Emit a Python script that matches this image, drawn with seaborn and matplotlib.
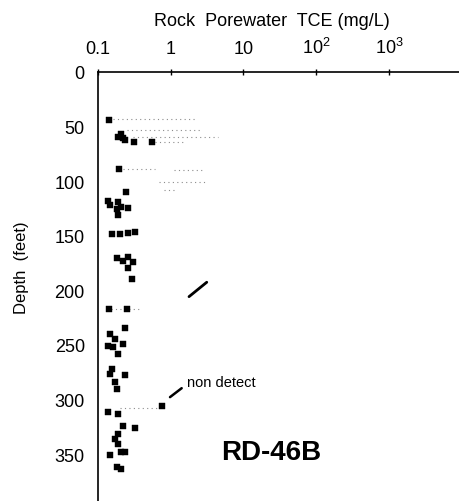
import numpy as np
import pandas as pd
import seaborn as sns
import matplotlib.pyplot as plt

# 岩石間隙水 TCE 濃度 (mg/L) と深度 (feet)
depth = [43.9, 57, 60, 62.5, 61, 64, 64.6, 89, 110, 118, 119, 122, 125.6, 124, 125,
         131, 148.5, 148.5, 147.6, 147, 170.7, 169.5, 174, 180, 173, 190, 217, 217,
         235, 240, 249, 250.7, 252, 258, 245, 272, 278, 276.6, 284, 290, 305.6,
         311.6, 313, 324, 326, 331.5, 336, 340.6, 347.7, 351, 348, 362, 363.5]
tce = [0.142, 0.207, 0.188, 0.235, 0.22, 0.31, 0.55, 0.195, 0.24, 0.137, 0.188, 0.146,
       0.18, 0.21, 0.26, 0.19, 0.154, 0.2, 0.26, 0.32, 0.18, 0.26, 0.30, 0.26, 0.22,
       0.29, 0.142, 0.25, 0.235, 0.146, 0.22, 0.139, 0.16, 0.19, 0.17, 0.154, 0.235,
       0.146, 0.17, 0.18, 0.75, 0.139, 0.19, 0.22, 0.32, 0.19, 0.17, 0.19, 0.21,
       0.146, 0.235, 0.18, 0.21]

# 薄い点線 (範囲)
trail_depth = [43, 53, 60, 64, 89, 90, 101, 108, 217, 308]
trail_lo = [0.16, 0.25, 0.3, 0.6, 0.22, 1.1, 0.7, 0.8, 0.15, 0.2]
trail_hi = [2.2, 2.5, 4.5, 1.5, 0.6, 3.0, 3.0, 1.1, 0.38, 0.7]

xticks = [0.1, 1, 10, 100, 1000]
xticklabels = ["0.1", "1", "10", "$10^2$", "$10^3$"]
yticks = [0, 50, 100, 150, 200, 250, 300, 350]

df = pd.DataFrame({"tce": tce, "depth": depth})

sns.set_style("white")
plt.rcParams["font.family"] = ["Liberation Sans", "DejaVu Sans"]
plt.rcParams["mathtext.default"] = "regular"
plt.rcParams["text.color"] = "black"
plt.rcParams["xtick.color"] = "black"
plt.rcParams["ytick.color"] = "black"

fig = plt.figure(figsize=(4.6, 5.02), dpi=100)
ax = fig.add_axes([0.213, 0.0, 0.787, 0.855])

ax.hlines(trail_depth, trail_lo, trail_hi, colors="0.55", linestyles=(0, (1, 3)), lw=0.8)
sns.scatterplot(data=df, x="tce", y="depth", marker="s", color="black",
                s=22, edgecolor="black", linewidth=0.3, ax=ax, zorder=3)

ax.set_xscale("log")
ax.set_xlim(0.1, 9500)
ax.set_ylim(393, 0)

ax.xaxis.set_ticks_position("top")
ax.set_xticks(xticks)
ax.set_xticklabels(xticklabels)
ax.minorticks_off()
ax.set_yticks(yticks)
ax.tick_params(axis="x", direction="inout", length=5, width=1, pad=8, labelsize=13,
               top=True, bottom=False, labeltop=True, labelbottom=False)
ax.tick_params(axis="y", direction="inout", length=11, width=1, pad=4, labelsize=13)

for s in ["right", "bottom"]:
    ax.spines[s].set_visible(False)
for s in ["top", "left"]:
    ax.spines[s].set_color("black")
    ax.spines[s].set_linewidth(1.2)
ax.set_xlabel("")
ax.set_ylabel("")

# 注記
ax.plot([1.785, 3.13], [205.9, 192.7], color="black", lw=2)
ax.plot([0.978, 1.415], [297.9, 289.7], color="black", lw=1.8)
ax.text(1.675, 284, "non detect", fontsize=10.5, va="center", ha="left")
ax.text(5.0, 348, "RD-46B", fontsize=20, fontweight="bold", va="center", ha="left")

fig.text(272 / 460, 1 - 22 / 502, "Rock  Porewater  TCE (mg/L)", fontsize=13,
         ha="center", va="center")
fig.text(22 / 460, 1 - 268 / 502, "Depth  (feet)", fontsize=12, rotation=90,
         ha="center", va="center")

fig.savefig("out.png", dpi=100)
